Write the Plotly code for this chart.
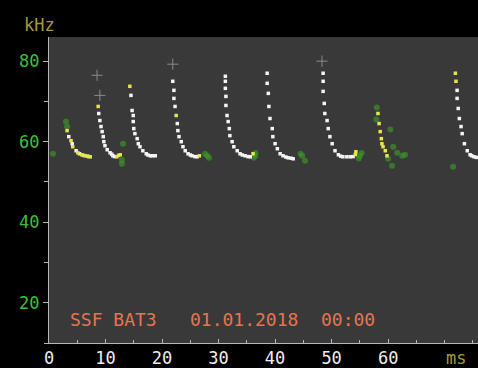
import plotly.graph_objects as go

# ---- data (time in ms, frequency in kHz) ----
white_t = [3.5, 4.1, 4.8, 5.4, 6.1, 6.8,
           8.8, 9.0, 9.2, 9.4, 9.6, 9.7, 9.9, 10.3, 10.8, 11.1, 11.3, 11.6,
           14.5, 14.7, 14.9, 14.9, 15.0, 15.2, 15.6, 15.8, 16.1, 16.6, 17.2, 17.5, 17.9, 18.3, 18.8,
           21.9, 22.1, 22.1, 22.3, 22.7, 22.8, 23.0, 23.4, 23.7, 24.1, 24.6, 25.0, 25.3, 25.8, 26.2,
           31.2, 31.2, 31.2, 31.3, 31.3, 31.5, 31.7, 31.9, 32.0, 32.4, 32.7, 33.3, 33.8, 34.2, 34.7, 35.2, 35.6,
           38.6, 38.6, 38.8, 38.9, 39.1, 39.5, 39.6, 40.0, 40.4, 40.9, 41.4, 41.9, 42.3, 42.8, 43.2,
           48.5, 48.5, 48.5, 48.7, 48.8, 49.2, 49.4, 49.7, 50.1, 50.6, 51.2, 51.6, 52.0, 52.7, 53.3, 53.8,
           72.2, 72.2, 72.4, 72.6, 72.9, 73.1, 73.5, 74.0, 74.5, 74.8, 75.2, 75.6]
white_f = [61.25, 59.5, 57.75, 57.0, 56.6, 56.4,
           67.0, 65.25, 63.75, 62.5, 61.25, 60.0, 59.0, 58.0, 57.25, 56.9, 56.5, 56.3,
           71.5, 67.75, 66.5, 65.0, 63.25, 62.0, 60.75, 59.5, 58.75, 57.75, 57.0, 56.7, 56.5, 56.5, 56.5,
           75.0, 72.75, 70.75, 68.75, 64.5, 62.75, 61.25, 60.0, 58.75, 57.75, 57.0, 56.7, 56.5, 56.3, 56.25,
           76.25, 75.0, 73.25, 71.25, 69.0, 66.5, 65.0, 63.25, 61.5, 60.0, 58.75, 57.75, 57.0, 56.7, 56.5, 56.3, 56.25,
           77.0, 74.5, 72.0, 68.75, 65.75, 63.25, 61.25, 59.5, 58.25, 57.0, 56.5, 56.2, 56.0, 55.9, 55.75,
           77.0, 75.0, 72.5, 69.5, 67.0, 65.25, 63.25, 61.25, 59.5, 57.75, 56.75, 56.4, 56.25, 56.25, 56.25, 56.3,
           72.75, 70.75, 68.25, 65.75, 63.75, 62.0, 59.5, 57.75, 56.75, 56.5, 56.25, 56.1]

yellow_t = [3.2, 3.9, 4.2, 5.1, 5.8, 6.4, 7.0, 7.3,
            8.7, 12.0, 12.3, 12.6,
            14.3,
            22.5, 26.6,
            36.1,
            54.3, 54.2,
            58.2, 58.4, 58.6, 58.8, 58.9, 59.1, 59.5, 59.8,
            71.9, 72.0]
yellow_f = [62.75, 60.25, 58.75, 57.25, 56.75, 56.5, 56.3, 56.25,
            68.75, 56.25, 56.6, 56.75,
            73.75,
            66.5, 56.5,
            57.0,
            57.5, 56.8,
            67.0, 64.5, 62.5, 60.75, 59.5, 58.75, 57.75, 56.5,
            77.0, 75.0]

green_t = [3.0, 3.2, 0.7,
           12.9, 13.1, 12.9,
           28.0, 27.6, 28.3,
           36.5, 36.2,
           44.8, 45.3, 44.5, 36.5,
           55.0, 55.3, 54.8,
           60.4, 60.9, 61.6, 60.0, 60.7, 62.5, 63.0, 58.0, 57.9,
           71.5]
green_f = [65.0, 63.75, 57.0,
           55.5, 59.5, 54.5,
           56.5, 57.0, 56.0,
           56.5, 56.0,
           56.5, 55.25, 57.0, 57.2,
           56.5, 57.2, 55.8,
           63.0, 58.75, 57.25, 55.75, 54.0, 56.5, 56.75, 68.5, 65.5,
           53.75]

cross_t = [8.5, 9.0, 21.9, 48.3]
cross_f = [76.5, 71.5, 79.25, 80.0]

y_ticks = [20, 40, 60, 80]
x_ticks = [0, 10, 20, 30, 40, 50, 60]
caption_parts = ["SSF BAT3", "01.01.2018", "00:00"]
caption_t = [3.3, 24.6, 47.7]

FONT = "DejaVu Sans Mono"

fig = go.Figure()
fig.add_trace(go.Scatter(x=green_t, y=green_f, mode="markers",
                         marker=dict(symbol="circle", size=6, color="rgba(60,150,40,0.65)",
                                     line=dict(width=0)), hoverinfo="skip"))
fig.add_trace(go.Scatter(x=cross_t, y=cross_f, mode="markers",
                         marker=dict(symbol="cross-thin", size=8, color="#8a8a8a",
                                     line=dict(width=1, color="#8a8a8a")), hoverinfo="skip"))
fig.add_trace(go.Scatter(x=white_t, y=white_f, mode="markers",
                         marker=dict(symbol="square", size=3.5, color="#f4f4f4",
                                     line=dict(width=0)), hoverinfo="skip"))
fig.add_trace(go.Scatter(x=yellow_t, y=yellow_f, mode="markers",
                         marker=dict(symbol="square", size=3.5, color="#e4e64a",
                                     line=dict(width=0)), hoverinfo="skip"))

for txt, t in zip(caption_parts, caption_t):
    fig.add_annotation(x=t, y=15.75, xref="x", yref="y", text=txt, showarrow=False,
                       xanchor="left", yanchor="middle",
                       font=dict(family=FONT, size=18, color="#e8734f"))

fig.add_annotation(x=-0.021, y=1.039, xref="paper", yref="paper", text="kHz", showarrow=False,
                   xanchor="center", yanchor="middle",
                   font=dict(family=FONT, size=17, color="#a09c3c"))
fig.add_annotation(x=72.0, y=-0.049, xref="x", yref="paper", text="ms", showarrow=False,
                   xanchor="center", yanchor="middle",
                   font=dict(family=FONT, size=17, color="#a09c3c"))

fig.update_layout(
    width=478, height=368,
    margin=dict(l=49, r=0, t=37, b=25),
    paper_bgcolor="#000000", plot_bgcolor="#393939",
    showlegend=False,
    xaxis=dict(range=[0, 75.9], tickvals=x_ticks, showgrid=False, zeroline=False,
               showline=True, linecolor="#b8b8b8", linewidth=1,
               ticks="inside", ticklen=4, tickcolor="#b8b8b8",
               minor=dict(dtick=5, ticks="inside", ticklen=3, tickcolor="#b8b8b8"),
               tickfont=dict(family=FONT, size=17, color="#eeeeee")),
    yaxis=dict(range=[10, 86], tickvals=y_ticks, showgrid=False, zeroline=False,
               showline=True, linecolor="#b8b8b8", linewidth=1,
               ticks="outside", ticklen=5, tickcolor="#b8b8b8",
               minor=dict(dtick=10, ticks="outside", ticklen=4, tickcolor="#b8b8b8"),
               tickfont=dict(family=FONT, size=17, color="#3cc03c")),
)

fig.write_html("out.html")
